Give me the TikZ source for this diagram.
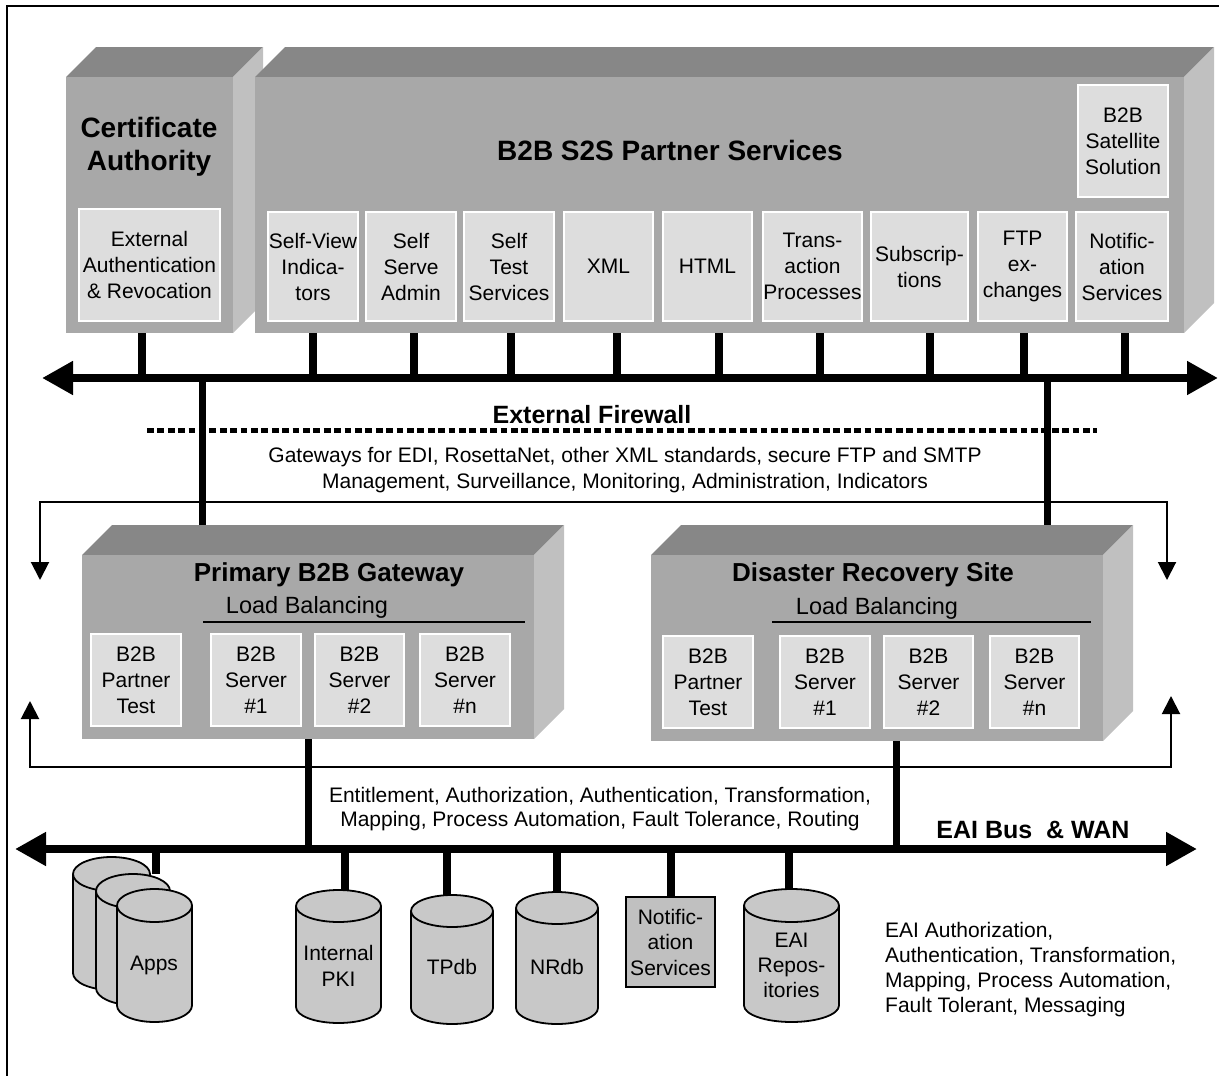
\documentclass[tikz,border=0pt]{standalone}
\usepackage{fontspec}
\setmainfont{Liberation Sans}
\usetikzlibrary{arrows.meta,fit}
\pgfdeclarelayer{bg}
\pgfsetlayers{bg,main}
\definecolor{topgray}{HTML}{878787}
\definecolor{frontgray}{HTML}{A8A8A8}
\definecolor{sidegray}{HTML}{C0C0C0}
\definecolor{innergray}{HTML}{DDDDDD}
\definecolor{cylgray}{HTML}{C8C8C8}
\definecolor{notifgray}{HTML}{C0C0C0}
\newcommand\myfs[2]{\fontsize{#1}{#2}\selectfont}
% 3D box: name, x1, y1, x2, y2, depth
\newcommand\threed[6]{%
  \fill[topgray] (#2,#3) -- ({#2+#6},{#3-#6}) -- ({#4+#6},{#3-#6}) -- (#4,#3) -- cycle;
  \fill[sidegray] (#4,#3) -- ({#4+#6},{#3-#6}) -- ({#4+#6},{#5-#6}) -- (#4,#5) -- cycle;
  \coordinate (#1-nw) at (#2,#3);
  \coordinate (#1-se) at (#4,#5);
  \node[fit=(#1-nw)(#1-se), inner sep=0pt, fill=frontgray] (#1) {};
}
% cylinder: name, cx, top cy, bottom cy, rx, ry
\newcommand\cyl[6]{%
  \filldraw[cylshape] (#2,#4) ellipse [x radius=#5pt, y radius=#6pt];
  \fill[cylgray] ({#2-#5},#3) rectangle ({#2+#5},#4);
  \draw[cylline] ({#2-#5},#3) -- ({#2-#5},#4) ({#2+#5},#3) -- ({#2+#5},#4);
  \filldraw[cylshape] (#2,#3) ellipse [x radius=#5pt, y radius=#6pt];
  \coordinate (#1-top) at (#2,{#3-#6});
}
\begin{document}
\begin{tikzpicture}[x=1pt,y=-1pt,
  inbox/.style={fill=innergray, draw=white, line width=2pt, inner sep=0pt, align=center, font=\myfs{21}{26}},
  bigtitle/.style={font=\bfseries\myfs{28}{33}, align=center, inner sep=0pt},
  gtitle/.style={font=\bfseries\myfs{26}{30}, inner sep=0pt},
  lbtext/.style={font=\myfs{23.5}{28}, inner sep=0pt},
  plain/.style={font=\myfs{21}{26}, align=center, inner sep=0pt},
  cylshape/.style={fill=cylgray, draw=black, line width=1.8pt},
  cylline/.style={draw=black, line width=1.8pt},
  cyltext/.style={font=\myfs{21}{26}, align=center, inner sep=0pt},
  bus/.style={line width=8pt, {Triangle[length=31pt,width=32pt]}-{Triangle[length=31pt,width=32pt]}},
  stub/.style={line width=8pt},
  vline/.style={line width=7pt},
  thinarrow/.style={line width=2pt, {Triangle[length=18pt,width=18pt]}-{Triangle[length=18pt,width=18pt]}},
  uline/.style={line width=2pt}
]
\useasboundingbox (0,0) rectangle (1219,1076);
% frame
\draw[line width=2pt] (7,1076) -- (7,6) -- (1219,6);

% ---------- top boxes ----------
\threed{ca}{66}{77}{233}{333}{30}
\threed{s2s}{255}{77}{1184}{333}{30}

\node[bigtitle] (catitle) at (149,146.5) {Certificate\\Authority};
\node[bigtitle] (s2stitle) at (670,150) {B2B S2S Partner Services};

\node[inbox, minimum width=141pt, minimum height=112pt] (extauth) at (149.5,265) {External\\Authentication\\\& Revocation};
\node[inbox, minimum width=90pt, minimum height=109pt] (selfview) at (313,266.5) {Self-View\\Indica-\\tors};
\node[inbox, minimum width=90pt, minimum height=109pt] (selfserve) at (411,266.5) {Self\\Serve\\Admin};
\node[inbox, minimum width=90pt, minimum height=109pt] (selftest) at (509,266.5) {Self\\Test\\Services};
\node[inbox, minimum width=89pt, minimum height=109pt] (xml) at (608.5,266.5) {XML};
\node[inbox, minimum width=89pt, minimum height=109pt] (html) at (707.5,266.5) {HTML};
\node[inbox, minimum width=99pt, minimum height=109pt] (trans) at (812.5,266.5) {Trans-\\action\\Processes};
\node[inbox, minimum width=97pt, minimum height=109pt] (subs) at (919.5,266.5) {Subscrip-\\tions};
\node[inbox, minimum width=89pt, minimum height=109pt] (ftp) at (1022.5,266.5) {FTP\\ex-\\changes};
\node[inbox, minimum width=92pt, minimum height=109pt] (notif) at (1122,266.5) {Notific-\\ation\\Services};
\node[inbox, minimum width=90pt, minimum height=112pt] (sat) at (1123,141) {B2B\\Satellite\\Solution};

% top bus
\coordinate (tbL) at (42,378);
\coordinate (tbR) at (1218,378);
\draw[bus] (tbL) -- (tbR);

% firewall
\node[font=\bfseries\myfs{25}{30}, inner sep=0pt] (fwtext) at (592,415) {External Firewall};
\coordinate (fwL) at (147,430);
\coordinate (fwR) at (1097,430);
\draw[line width=5pt, dash pattern=on 6.8pt off 3.6pt] (fwL) -- (fwR);
\node[plain] (gwtext) at (625,470) {Gateways for EDI, RosettaNet, other XML standards, secure FTP and SMTP\\Management, Surveillance, Monitoring, Administration, Indicators};

% brackets
\coordinate (brTL) at (40,580);
\coordinate (brTLc) at (40,502);
\coordinate (brTRc) at (1167,502);
\coordinate (brTR) at (1167,580);
\draw[thinarrow] (brTL) -- (brTLc) -- (brTRc) -- (brTR);
\coordinate (brBL) at (30,701);
\coordinate (brBLc) at (30,767);
\coordinate (brBRc) at (1171,767);
\coordinate (brBR) at (1171,696);
\draw[thinarrow] (brBL) -- (brBLc) -- (brBRc) -- (brBR);

% ---------- gateways ----------
\threed{pg}{82}{555}{534}{739}{30}
\threed{dr}{651}{555}{1103}{741}{30}

\node[gtitle] (pgtitle) at (329,575) {Primary B2B Gateway};
\node[lbtext] (pglb) at (307,607) {Load Balancing};
\coordinate (pgulL) at (203,622);
\coordinate (pgulR) at (525,622);
\draw[uline] (pgulL) -- (pgulR);
\node[inbox, minimum width=90pt, minimum height=92pt] (pgpt) at (136,680) {B2B\\Partner\\Test};
\node[inbox, minimum width=90pt, minimum height=92pt] (pgs1) at (256,680) {B2B\\Server\\\#1};
\node[inbox, minimum width=89pt, minimum height=92pt] (pgs2) at (359.5,680) {B2B\\Server\\\#2};
\node[inbox, minimum width=90pt, minimum height=92pt] (pgsn) at (465,680) {B2B\\Server\\\#n};

\node[gtitle] (drtitle) at (873,575) {Disaster Recovery Site};
\node[lbtext] (drlb) at (877,608) {Load Balancing};
\coordinate (drulL) at (772,622);
\coordinate (drulR) at (1091,622);
\draw[uline] (drulL) -- (drulR);
\node[inbox, minimum width=90pt, minimum height=92pt] (drpt) at (708,682) {B2B\\Partner\\Test};
\node[inbox, minimum width=90pt, minimum height=92pt] (drs1) at (825,682) {B2B\\Server\\\#1};
\node[inbox, minimum width=89pt, minimum height=92pt] (drs2) at (928.5,682) {B2B\\Server\\\#2};
\node[inbox, minimum width=89pt, minimum height=92pt] (drsn) at (1034.5,682) {B2B\\Server\\\#n};

% ---------- bottom bus ----------
\coordinate (bbL) at (15,849);
\coordinate (bbR) at (1197,849);
\draw[bus] (bbL) -- (bbR);
\node[font=\myfs{21}{24}, align=center, inner sep=0pt] (enttext) at (600,809) {Entitlement, Authorization, Authentication, Transformation,\\Mapping, Process Automation, Fault Tolerance, Routing};
\node[font=\bfseries\myfs{25}{30}, inner sep=0pt] (eaibus) at (1033,830) {EAI Bus\ \ \& WAN};

% ---------- storage ----------
\cyl{appsb}{111.5}{874}{973}{38.5}{17}
\cyl{appsm}{133}{891}{988}{37}{17}
\cyl{appsf}{154.5}{905.5}{1005.5}{37.5}{16.5}
\node[cyltext] (apps) at (154,965) {Apps};
\cyl{pki}{338.5}{906}{1007}{42.5}{16}
\node[cyltext] (pkit) at (338.5,966) {Internal\\PKI};
\cyl{tpdb}{452}{911}{1008}{41}{16}
\node[cyltext] (tpdbt) at (452,967) {TPdb};
\cyl{nrdb}{557}{908}{1008}{41}{16}
\node[cyltext] (nrdbt) at (557,967) {NRdb};
\node[draw=black, line width=1.8pt, fill=notifgray, minimum width=89pt, minimum height=90pt, inner sep=0pt, align=center, font=\myfs{21}{25.5}] (notifb) at (670.5,942) {Notific-\\ation\\Services};
\cyl{eai}{791.5}{905.5}{1005.5}{47.5}{16.5}
\node[font=\myfs{21}{25}, align=center, inner sep=0pt] (eait) at (791.5,965) {EAI\\Repos-\\itories};
\node[font=\myfs{21}{25}, align=left, inner sep=0pt, anchor=west] (eaidesc) at (885,969.5) {EAI Authorization,\\Authentication, Transformation,\\Mapping, Process Automation,\\Fault Tolerant, Messaging};

% ---------- connectors (behind) ----------
\begin{pgfonlayer}{bg}
\draw[stub] ([xshift=-7.5pt]extauth.south) -- ([xshift=-7.5pt]extauth.south |- tbL);
\draw[stub] (selfview.south) -- (selfview.south |- tbL);
\draw[stub] ([xshift=3pt]selfserve.south) -- ([xshift=3pt]selfserve.south |- tbL);
\draw[stub] ([xshift=2pt]selftest.south) -- ([xshift=2pt]selftest.south |- tbL);
\draw[stub] ([xshift=8.5pt]xml.south) -- ([xshift=8.5pt]xml.south |- tbL);
\draw[stub] ([xshift=11.5pt]html.south) -- ([xshift=11.5pt]html.south |- tbL);
\draw[stub] ([xshift=7.5pt]trans.south) -- ([xshift=7.5pt]trans.south |- tbL);
\draw[stub] ([xshift=10.5pt]subs.south) -- ([xshift=10.5pt]subs.south |- tbL);
\draw[stub] ([xshift=1.5pt]ftp.south) -- ([xshift=1.5pt]ftp.south |- tbL);
\draw[stub] ([xshift=3pt]notif.south) -- ([xshift=3pt]notif.south |- tbL);
% gateways to top bus
\draw[vline] ([xshift=-106pt]pg.north) -- ([xshift=-106pt]pg.north |- tbL);
\draw[vline] ([xshift=170pt]dr.north) -- ([xshift=170pt]dr.north |- tbL);
% gateways to bottom bus
\draw[vline] (pg.south) -- (pg.south |- bbL);
\draw[vline] ([xshift=19pt]dr.south) -- ([xshift=19pt]dr.south |- bbL);
% storage stubs
\draw[stub] ([xshift=23pt]appsm-top) -- ([xshift=23pt]appsm-top |- bbL);
\draw[stub] ([xshift=6.5pt]pki-top) -- ([xshift=6.5pt]pki-top |- bbL);
\draw[stub] ([xshift=-5pt]tpdb-top) -- ([xshift=-5pt]tpdb-top |- bbL);
\draw[stub] (nrdb-top) -- (nrdb-top |- bbL);
\draw[stub] (notifb.north) -- (notifb.north |- bbL);
\draw[stub] ([xshift=-2.5pt]eai-top) -- ([xshift=-2.5pt]eai-top |- bbL);
\end{pgfonlayer}
\end{tikzpicture}
\end{document}
